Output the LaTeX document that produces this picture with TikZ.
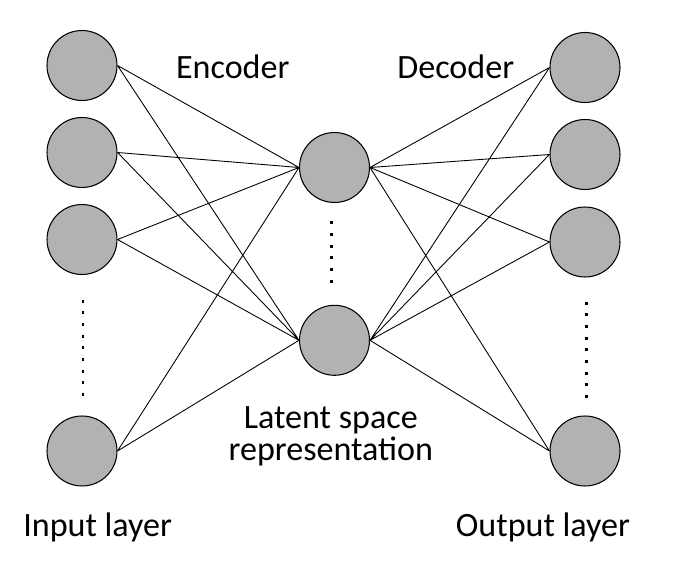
\documentclass[tikz,border=0pt]{standalone}
\usepackage{fontspec}
\setmainfont{Carlito}
\usetikzlibrary{positioning}

\begin{document}
\begin{tikzpicture}[x=0.02cm,y=-0.02cm]
			\tikzstyle{unit}=[draw,shape=circle,fill=gray!60,minimum size=1.4cm,inner sep=0pt,line width=0.6pt];
			\tikzstyle{caption}=[inner sep=0pt,font=\fontsize{19.4}{18}\selectfont];
			\tikzstyle{dots}=[line width=1.7pt,dash pattern=on 1.7pt off 4.92pt];
			\useasboundingbox (0,0) rectangle (700,567);
			\node[unit] (in1) at (82,65.5) {};
			\node[unit] (in2) at (82,152.5) {};
			\node[unit] (in3) at (82,239.5) {};
			\node[unit] (in4) at (82,451) {};
			\node[unit] (lat1) at (334.5,167.5) {};
			\node[unit] (lat2) at (334.5,340.3) {};
			\node[unit] (out1) at (585,67.5) {};
			\node[unit] (out2) at (585,154.5) {};
			\node[unit] (out3) at (585,242) {};
			\node[unit] (out4) at (585,451) {};
			\draw[line width=0.5pt] (in1.east) -- (lat1.west)(in1.east) -- (lat2.west)(in2.east) -- (lat1.west)(in2.east) -- (lat2.west)(in3.east) -- (lat1.west)(in3.east) -- (lat2.west)(in4.east) -- (lat1.west)(in4.east) -- (lat2.west);
			\draw[line width=0.5pt] (lat1.east) -- (out1.west)(lat1.east) -- (out2.west)(lat1.east) -- (out3.west)(lat1.east) -- (out4.west)(lat2.east) -- (out1.west)(lat2.east) -- (out2.west)(lat2.east) -- (out3.west)(lat2.east) -- (out4.west);
			% dotted gaps
			\draw[dots] (83,299.8) -- (83,396);
			\draw[dots] (331.5,221.5) -- (331.5,283);
			\draw[dots] (586.5,301.8) -- (586.5,398);
			\node[caption,anchor=base] (enc) at (232.8,78.3) {Encoder};
			\node[caption,anchor=base] (dec) at (455.8,78.3) {Decoder};
			\node[caption,anchor=north,align=center] (latent) at (330.8,406.7) {Latent space\\representation};
			\node[caption,anchor=base] (inlabel) at (97.7,536.7) {Input layer};
			\node[caption,anchor=base] (outlabel) at (543,536.7) {Output layer};
		\end{tikzpicture}
\end{document}
